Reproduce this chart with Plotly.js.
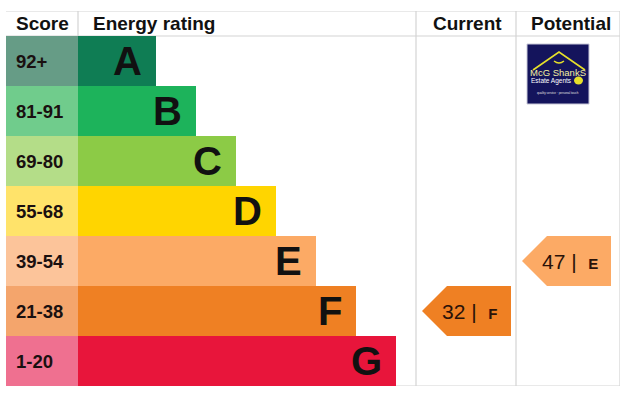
<!DOCTYPE html>
<html>
<head>
<meta charset="utf-8">
<script src="https://cdn.plot.ly/plotly-3.0.1.min.js"></script>
<style>html,body{margin:0;padding:0;background:#fff;}#chart{width:633px;height:403px;}</style>
</head>
<body>
<div id="chart"></div>
<script>
// ---- data ----
const bands = ['A', 'B', 'C', 'D', 'E', 'F', 'G'];
const scoreRanges = ['92+', '81-91', '69-80', '55-68', '39-54', '21-38', '1-20'];
const barLengths = [78, 118, 158, 198, 238, 278, 318];
const bandColors = ['#0f7d54', '#1db35b', '#8ccb46', '#ffd500', '#fcaa65', '#ef8023', '#e8153b'];
const scoreColors = ['#669c86', '#70cc8c', '#b4dd88', '#ffe36a', '#fcc49a', '#f4a56c', '#ef7090'];
const headers = ['Score', 'Energy rating', 'Current', 'Potential'];
const currentScore = 32;
const currentBand = 'F';
const potentialScore = 47;
const potentialBand = 'E';

// ---- layout constants ----
const scoreColW = 72;
const curCol = [410, 510];
const potCol = [510, 614];
const FONT = 'Liberation Sans, Arial, sans-serif';
const rows = bands.map((b, i) => i);

const traces = [];
// score cells
traces.push({
  type: 'bar', orientation: 'h', y: rows, x: rows.map(() => scoreColW), base: 0, width: 1,
  marker: {color: scoreColors, line: {width: 0}}, hoverinfo: 'skip', showlegend: false
});
// rating bars
traces.push({
  type: 'bar', orientation: 'h', y: rows, x: barLengths, base: scoreColW, width: 1,
  marker: {color: bandColors, line: {width: 0}}, hoverinfo: 'skip', showlegend: false
});

function arrowTrace(col, band) {
  const r = bands.indexOf(band);
  const x0 = col[0];
  return {
    type: 'scatter', mode: 'lines', fill: 'toself',
    x: [x0 + 6, x0 + 31, x0 + 95, x0 + 95, x0 + 31, x0 + 6],
    y: [r, r - 0.5, r - 0.5, r + 0.5, r + 0.5, r],
    line: {width: 0, color: bandColors[r]}, fillcolor: bandColors[r],
    hoverinfo: 'skip', showlegend: false
  };
}
traces.push(arrowTrace(curCol, currentBand));
traces.push(arrowTrace(potCol, potentialBand));

const annotations = [];
// headers
const hy = -0.75;
annotations.push({x: 36, y: hy, text: '<b>' + headers[0] + '</b>', xanchor: 'center'});
annotations.push({x: 85, y: hy, text: '<b>' + headers[1] + '</b>', xanchor: 'left'});
annotations.push({x: 461, y: hy, text: '<b>' + headers[2] + '</b>', xanchor: 'center'});
annotations.push({x: 565, y: hy, text: '<b>' + headers[3] + '</b>', xanchor: 'center'});
annotations.forEach(a => { a.showarrow = false; a.yanchor = 'middle'; a.font = {family: FONT, size: 19, color: '#111'}; });

rows.forEach(i => {
  annotations.push({x: 8, y: i, text: '<b>' + scoreRanges[i] + '</b>', xanchor: 'left', yanchor: 'middle',
    showarrow: false, font: {family: FONT, size: 18.5, color: '#1a1010'}});
  annotations.push({x: scoreColW + barLengths[i] - 12, y: i, text: '<b>' + bands[i] + '</b>', xanchor: 'right', yanchor: 'middle',
    showarrow: false, font: {family: FONT, size: 40, color: '#111'}});
});

function arrowLabel(col, score, band) {
  return {x: col[0] + 53.5, y: bands.indexOf(band), xanchor: 'center', yanchor: 'middle', showarrow: false,
    text: score + ' |  <b><span style="font-size:15px">' + band + '</span></b>',
    font: {family: FONT, size: 21, color: '#2a1208'}};
}
annotations.push(arrowLabel(curCol, currentScore, currentBand));
annotations.push(arrowLabel(potCol, potentialScore, potentialBand));

// logo text
annotations.push({x: 552, y: 0.22, text: 'McG ShankS', showarrow: false, xanchor: 'center', yanchor: 'middle',
  font: {family: FONT, size: 9.5, color: '#f2efa0'}});
annotations.push({x: 545, y: 0.39, text: 'Estate Agents', showarrow: false, xanchor: 'center', yanchor: 'middle',
  font: {family: FONT, size: 6.5, color: '#ffffff'}});
annotations.push({x: 552, y: 0.64, text: 'quality service · personal touch', showarrow: false, xanchor: 'center', yanchor: 'middle',
  font: {family: FONT, size: 3, color: '#e0e0e0'}});

const grid = '#d4d4d4';
const shapes = [
  {type: 'line', x0: 0, x1: potCol[1], y0: -1, y1: -1},
  {type: 'line', x0: 0, x1: potCol[1], y0: -0.5, y1: -0.5},
  {type: 'line', x0: 0, x1: potCol[1], y0: 6.5, y1: 6.5},
  {type: 'line', x0: scoreColW, x1: scoreColW, y0: -1, y1: -0.5},
  {type: 'line', x0: curCol[0], x1: curCol[0], y0: -1, y1: 6.5},
  {type: 'line', x0: potCol[0], x1: potCol[0], y0: -1, y1: 6.5},
  {type: 'line', x0: potCol[1], x1: potCol[1], y0: -1, y1: 6.5}
].map(s => Object.assign(s, {xref: 'x', yref: 'y', layer: 'below', line: {color: grid, width: 1.2}}));

// logo graphics
shapes.push({type: 'rect', xref: 'x', yref: 'y', x0: 521, x1: 583, y0: -0.34, y1: 0.86,
  fillcolor: '#14145c', line: {color: '#c8c8d8', width: 1}, layer: 'above'});
shapes.push({type: 'path', xref: 'x', yref: 'y', path: 'M 527 0.18 L 553 -0.18 L 579 0.18',
  line: {color: '#e6e02a', width: 1.6}, layer: 'above'});
shapes.push({type: 'path', xref: 'x', yref: 'y', path: 'M 548 0.0 Q 553 0.08 558 0.0',
  line: {color: '#e6e02a', width: 1.4}, layer: 'above'});
shapes.push({type: 'circle', xref: 'x', yref: 'y', x0: 568, x1: 577, y0: 0.31, y1: 0.47,
  fillcolor: '#e6e02a', line: {width: 0}, layer: 'above'});

const layout = {
  width: 633, height: 403,
  margin: {l: 6, r: 13, t: 11, b: 17, pad: 0},
  paper_bgcolor: '#ffffff', plot_bgcolor: '#ffffff',
  barmode: 'overlay', bargap: 0,
  xaxis: {range: [0, potCol[1]], showgrid: false, zeroline: false, showticklabels: false, ticks: '', fixedrange: true},
  yaxis: {range: [6.5, -1], showgrid: false, zeroline: false, showticklabels: false, ticks: '', fixedrange: true},
  shapes: shapes,
  annotations: annotations,
  showlegend: false,
  font: {family: FONT}
};

Plotly.newPlot('chart', traces, layout, {staticPlot: true, displayModeBar: false});
</script>
</body>
</html>
